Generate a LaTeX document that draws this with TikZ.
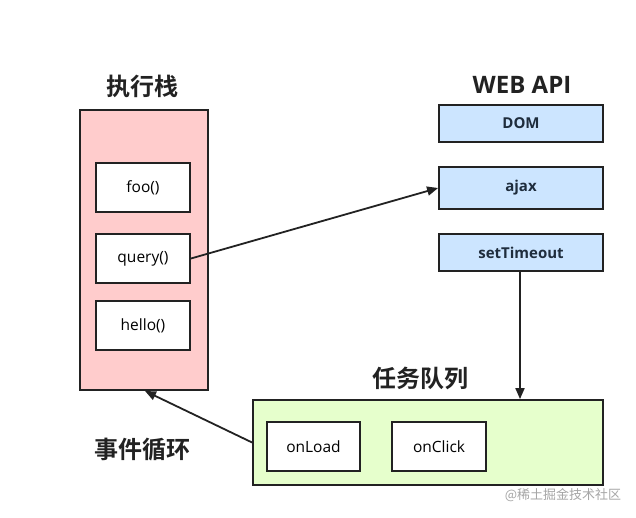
\documentclass[tikz,border=0pt]{standalone}
\usepackage{fontspec}
\setmainfont{Open Sans}
\newfontfamily\cjk{Noto Sans CJK SC}
\newfontfamily\cjkb{Noto Sans CJK SC Bold}
\usetikzlibrary{arrows.meta}
\definecolor{stackpink}{HTML}{FFCCCC}
\definecolor{apiblue}{HTML}{CCE5FF}
\definecolor{queuegreen}{HTML}{E6FFCC}
\definecolor{linec}{HTML}{222222}
\definecolor{apitext}{HTML}{1F2D3D}
\tikzset{
  x=1pt,y=-1pt,
  frame/.style={draw=linec,line width=1.8pt},
  itembox/.style={frame,fill=white,inner sep=0pt,font=\fontsize{15.5}{18}\selectfont},
  apibox/.style={frame,fill=apiblue,inner sep=0pt,font=\bfseries\fontsize{15}{18}\selectfont,text=apitext},
  title/.style={font=\cjkb\fontsize{24}{28}\selectfont,text=linec},
  conn/.style={draw=linec,line width=1.8pt,-{Triangle[length=11pt,width=9pt]}},
}
\begin{document}
\begin{tikzpicture}
\useasboundingbox (0,0) rectangle (636,518);
\fill[white] (0,0) rectangle (636,518);
% stack
\node[frame,fill=stackpink,minimum width=128pt,minimum height=280pt,inner sep=0pt] (stack) at (144,250) {};
\node[title] (stacktitle) at (142,86) {执行栈};
\node[itembox,minimum width=94pt,minimum height=49pt] (foo) at (143,187.5) {foo()};
\node[itembox,minimum width=94pt,minimum height=49pt] (query) at (143,258.5) {query()};
\node[itembox,minimum width=94pt,minimum height=49pt] (hello) at (143,325.5) {hello()};
% web api
\node[font=\bfseries\fontsize{24}{28}\selectfont,text=linec] (apititle) at (522,85) {WEB API};
\node[apibox,minimum width=164pt,minimum height=37pt] (dom) at (521,123.5) {DOM};
\node[apibox,minimum width=164pt,minimum height=42pt] (ajax) at (521,188) {ajax};
\node[apibox,minimum width=164pt,minimum height=37pt] (timeout) at (521,252.5) {setTimeout};
% queue
\node[frame,fill=queuegreen,minimum width=350pt,minimum height=85pt,inner sep=0pt] (queue) at (428,442.5) {};
\node[title] (queuetitle) at (420,378) {任务队列};
\node[itembox,minimum width=93pt,minimum height=49pt] (onload) at (313.5,446.5) {onLoad};
\node[itembox,minimum width=94pt,minimum height=49pt] (onclick) at (439,446.5) {onClick};
% loop label
\node[title] (looptitle) at (142,450) {事件循环};
% watermark
\node[font=\cjk\fontsize{13}{15}\selectfont,text=black!35] (wm) at (563,495) {@稀土掘金技术社区};
% connectors
\coordinate (stackin) at (145,391);
\draw[conn] (query.east) -- (ajax.west);
\draw[conn] (timeout.south -| 520,0) -- (queue.north -| 520,0);
\draw[conn] (queue.west) -- (stackin);
\end{tikzpicture}
\end{document}
